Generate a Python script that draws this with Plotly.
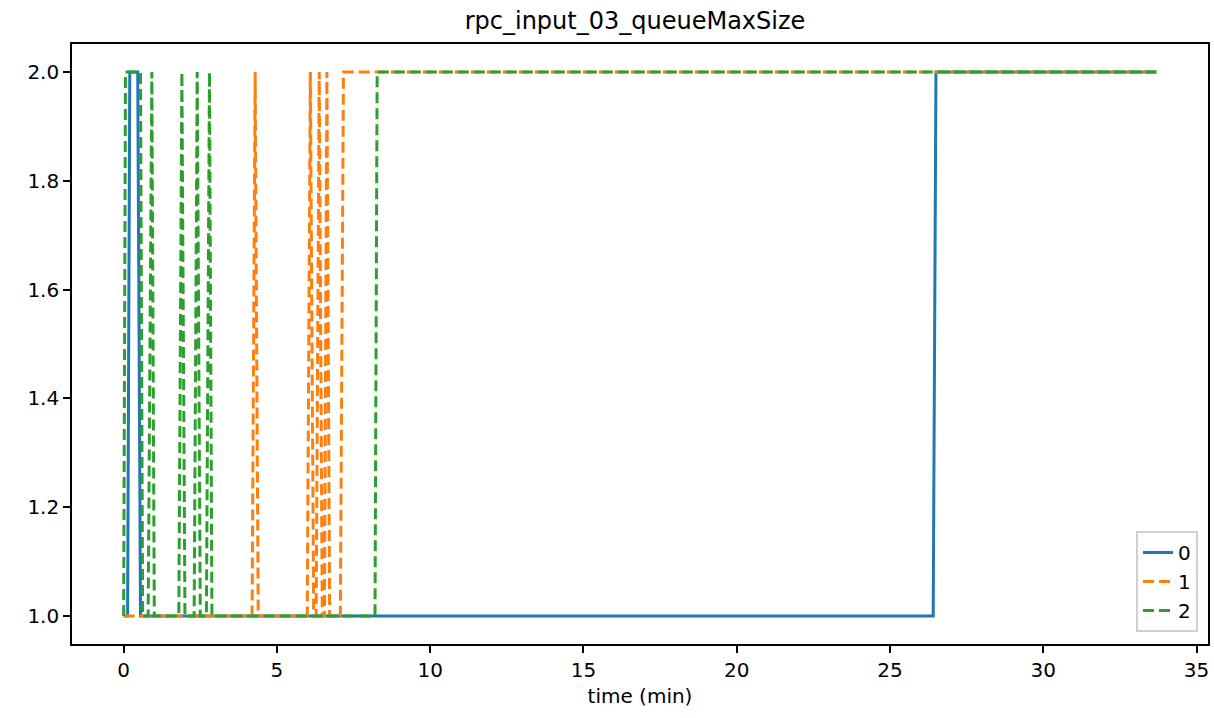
import plotly.graph_objects as go

# series 0
t0 = [0.0, 0.13, 0.20, 0.46, 0.55, 26.41, 26.50, 33.69]
v0 = [1, 1, 2, 2, 1, 1, 2, 2]

# series 1
t1 = [0.0, 4.19, 4.29, 4.39, 5.99, 6.09, 6.20, 6.28, 6.38, 6.48, 6.55, 6.63, 6.72, 7.07, 7.17, 33.69]
v1 = [1, 1, 2, 1, 1, 2, 1, 1, 2, 1, 1, 2, 1, 1, 2, 2]

# series 2
t2 = [0.0, 0.06, 0.55, 0.62, 0.80, 0.92, 1.00, 1.80, 1.90, 2.00, 2.30, 2.40, 2.50, 2.70, 2.80, 2.88, 8.20, 8.27, 33.69]
v2 = [1, 2, 2, 1, 1, 2, 1, 1, 2, 1, 1, 2, 1, 1, 2, 1, 1, 2, 2]

names = ["0", "1", "2"]
colors = ["#1f77b4", "#ff7f0e", "#2ca02c"]
dashes = ["solid", "11px,5px", "11px,5px"]

FONT = "DejaVu Sans"

fig = go.Figure()
for t, v, n, c, d in zip([t0, t1, t2], [v0, v1, v2], names, colors, dashes):
    fig.add_trace(go.Scatter(x=t, y=v, mode="lines", name=n,
                             line=dict(color=c, width=3, dash=d)))

fig.update_layout(
    width=1214, height=718,
    margin=dict(l=72, r=6, t=44, b=74),
    paper_bgcolor="white", plot_bgcolor="white",
    font=dict(family=FONT, size=20, color="black"),
    title=dict(text="rpc_input_03_queueMaxSize", x=(635 - 0) / 1214, xanchor="center",
               y=1 - 21 / 718, yanchor="middle", font=dict(family=FONT, size=24, color="black")),
    xaxis=dict(range=[-1.6845, 35.3745], tickvals=[0, 5, 10, 15, 20, 25, 30, 35],
               showgrid=False, zeroline=False, showline=True, linecolor="black", linewidth=1.6,
               mirror=True, ticks="outside", ticklen=7, tickcolor="black", tickwidth=1.6,
               automargin=False,
               title=dict(text="time (min)", font=dict(family=FONT, size=20), standoff=8),
               tickfont=dict(family=FONT, size=20)),
    yaxis=dict(range=[0.9485, 2.0515], tickvals=[1.0, 1.2, 1.4, 1.6, 1.8, 2.0], tickformat=".1f",
               showgrid=False, zeroline=False, showline=True, linecolor="black", linewidth=1.6,
               mirror=True, ticks="outside", ticklen=7, tickcolor="black", tickwidth=1.6,
               automargin=False,
               tickfont=dict(family=FONT, size=20)),
    legend=dict(x=(1198 - 72) / 1136, y=(644 - 632) / 600, xanchor="right", yanchor="bottom",
                bordercolor="#d0d0d0", borderwidth=2, bgcolor="rgba(255,255,255,0.8)",
                font=dict(family=FONT, size=20), entrywidth=62, entrywidthmode="pixels"),
    showlegend=True,
)

fig.write_html(
    "out.html",
    config={"displayModeBar": False},
    post_script="document.body.style.margin='0';document.body.style.overflow='hidden';",
)
